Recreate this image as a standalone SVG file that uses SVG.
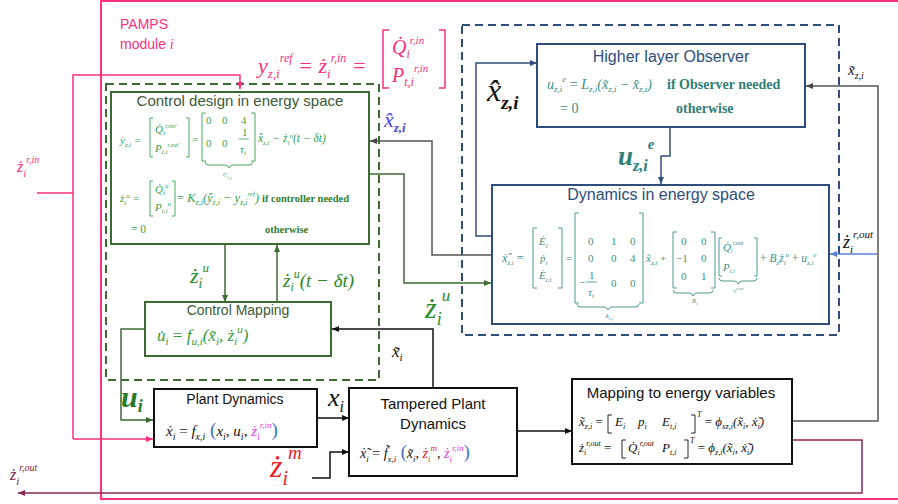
<svg xmlns="http://www.w3.org/2000/svg" width="898" height="504" viewBox="0 0 898 504">
<defs>
<style>
.sans{font-family:"Liberation Sans","Open Sans",sans-serif}
.m{font-family:"Liberation Serif","DejaVu Serif",serif;font-style:italic}
.u{font-family:"Liberation Serif","DejaVu Serif",serif;font-style:normal}
.b{font-family:"Liberation Serif","DejaVu Serif",serif;font-weight:bold}
.ln{fill:none;stroke-width:1.5}
.box{fill:#fff;stroke-width:2}
.brk{fill:none;stroke-width:0.9}
</style>
<marker id="ak" markerWidth="8" markerHeight="8" refX="7" refY="4" orient="auto" markerUnits="userSpaceOnUse"><path d="M0,1 L7,4 L0,7z" fill="#111"/></marker>
<marker id="ag" markerWidth="8" markerHeight="8" refX="7" refY="4" orient="auto" markerUnits="userSpaceOnUse"><path d="M0,1 L7,4 L0,7z" fill="#3b6b33"/></marker>
<marker id="an" markerWidth="8" markerHeight="8" refX="7" refY="4" orient="auto" markerUnits="userSpaceOnUse"><path d="M0,1 L7,4 L0,7z" fill="#2f4d7c"/></marker>
<marker id="ap" markerWidth="8" markerHeight="8" refX="7" refY="4" orient="auto" markerUnits="userSpaceOnUse"><path d="M0,1 L7,4 L0,7z" fill="#f7307f"/></marker>
<marker id="am" markerWidth="8" markerHeight="8" refX="7" refY="4" orient="auto" markerUnits="userSpaceOnUse"><path d="M0,1 L7,4 L0,7z" fill="#8e2756"/></marker>
<marker id="ab" markerWidth="8" markerHeight="8" refX="7" refY="4" orient="auto" markerUnits="userSpaceOnUse"><path d="M0,1 L7,4 L0,7z" fill="#5b7fd8"/></marker>
<marker id="ay" markerWidth="8" markerHeight="8" refX="7" refY="4" orient="auto" markerUnits="userSpaceOnUse"><path d="M0,1 L7,4 L0,7z" fill="#444"/></marker>
</defs>
<rect width="898" height="504" fill="#fff"/>

<!-- module frame -->
<g id="pamps-module">
<rect x="101" y="1" width="800" height="498" fill="none" stroke="#f7307f" stroke-width="2"/>
<text x="120" y="29" class="sans" font-size="14" fill="#f7307f">PAMPS</text>
<text x="120" y="49" class="sans" font-size="14" fill="#f7307f">module <tspan class="m">i</tspan></text>
</g>

<g id="ref-formula" fill="#f7307f">
<text x="258" y="73" class="m" font-size="22">y<tspan font-size="13" dy="5">z,i</tspan><tspan font-size="12" dy="-16">ref</tspan><tspan dy="11"> = ż</tspan><tspan font-size="13" dy="5">i</tspan><tspan font-size="12" dy="-16">r,in</tspan><tspan dy="11"> =</tspan></text>
<path d="M389,30 h-6 v58 h6 M439,30 h6 v58 h-6" fill="none" stroke="#f7307f" stroke-width="1.5"/>
<text x="392" y="54" class="m" font-size="20">Q̇<tspan font-size="12" dy="4">i</tspan><tspan font-size="11" dy="-14">r,in</tspan></text>
<text x="392" y="82" class="m" font-size="20">P<tspan font-size="12" dy="4">t,i</tspan><tspan font-size="11" dy="-14">r,in</tspan></text>
</g>

<!-- dashed groupings -->
<g id="control-group"><rect x="106" y="84" width="273" height="296" fill="none" stroke="#3b6b33" stroke-width="2" stroke-dasharray="8 5"/></g>
<g id="observer-group"><rect x="462" y="25" width="377" height="310" fill="none" stroke="#2f4d7c" stroke-width="2" stroke-dasharray="8 5"/></g>

<!-- connectors -->
<g id="connectors">
<path class="ln" d="M37,193 H73" stroke="#f7307f" stroke-width="2"/>
<path class="ln" d="M73,439 V75 H240 V89" stroke="#f7307f" stroke-width="2" marker-end="url(#ap)"/>
<path class="ln" d="M73,439 H153" stroke="#f7307f" stroke-width="2" marker-end="url(#ap)"/>
<path class="ln" d="M792,440 H862 V493 H18" stroke="#8e2756" stroke-width="2" marker-end="url(#am)"/>
<path class="ln" d="M145,329 H121 V420 H153" stroke="#3b6b33" stroke-width="2" marker-end="url(#ag)"/>
<path class="ln" d="M225,244 V302" stroke="#3b6b33" stroke-width="2" marker-end="url(#ag)"/>
<path class="ln" d="M277,302 V245" stroke="#3b6b33" stroke-width="2" marker-end="url(#ag)"/>
<path class="ln" d="M317,418 H349" stroke="#111" marker-end="url(#ak)"/>
<path class="ln" d="M312,478 H330 V452 H349" stroke="#111" stroke-width="2" marker-end="url(#ak)"/>
<path class="ln" d="M433,388 V329 H332" stroke="#111" marker-end="url(#ak)"/>
<path class="ln" d="M517,431 H572" stroke="#111" marker-end="url(#ak)"/>
<path class="ln" d="M792,421 H878 V86 H806" stroke="#555" stroke-width="2" marker-end="url(#ay)"/>
<path class="ln" d="M878,254 H830" stroke="#5b7fd8" stroke-width="2" marker-end="url(#ab)"/>
<path class="ln" d="M670,127 V156 H661 V184" stroke="#2f4d7c" stroke-width="2" marker-end="url(#an)"/>
<path class="ln" d="M492,236 H476 V63 H537" stroke="#2f4d7c" stroke-width="2" marker-end="url(#an)"/>
<path class="ln" d="M492,255 H432 V141 H370" stroke="#555" marker-end="url(#ay)"/>
<path class="ln" d="M369,174 H404 V283 H491" stroke="#3b6b33" stroke-width="2" marker-end="url(#ag)"/>
</g>

<!-- connector labels -->
<g id="labels">
<text x="17" y="172" class="m" font-size="16" fill="#f7307f">ż<tspan font-size="11" dy="5">i</tspan><tspan font-size="10" dy="-14">r,in</tspan></text>
<text x="10" y="480" class="m" font-size="16" fill="#7a2048">ż<tspan font-size="11" dy="5">i</tspan><tspan font-size="10" dy="-14">r,out</tspan></text>
<text x="487" y="101" class="m" font-size="32" fill="#111">x̂<tspan font-size="19" font-weight="bold" dy="8">z,i</tspan></text>
<text x="618" y="165" class="m" font-size="27" fill="#2f7f78" font-weight="bold">u<tspan font-size="16" dy="6">z,i</tspan><tspan font-size="15" dy="-22">e</tspan></text>
<text x="848" y="75" class="m" font-size="15" fill="#111">x̃<tspan font-size="10" dy="4">z,i</tspan></text>
<text x="843" y="248" class="m" font-size="18" fill="#111">ż<tspan font-size="11" dy="5">i</tspan><tspan font-size="11" dy="-15">r,out</tspan></text>
<text x="425" y="318" class="m" font-size="30" fill="#2a8a2a">ż<tspan font-size="18" dy="7">i</tspan><tspan font-size="17" dy="-24">u</tspan></text>
<text x="384" y="127" class="m" font-size="22" fill="#4a4ae0">x̂<tspan font-size="13" font-weight="bold" dy="5">z,i</tspan></text>
<text x="190" y="283" class="m" font-size="22" fill="#2a8a2a">ż<tspan font-size="14" dy="5">i</tspan><tspan font-size="13" dy="-16">u</tspan></text>
<text x="283" y="287" class="m" font-size="19" fill="#2a8a2a">ż<tspan font-size="12" dy="4">i</tspan><tspan font-size="12" dy="-13">u</tspan><tspan dy="9">(t − δt)</tspan></text>
<text x="392" y="357" class="m" font-size="17" fill="#111">x̃<tspan font-size="11" dy="4">i</tspan></text>
<text x="121" y="407" class="m" font-size="30" font-weight="bold" fill="#2a7a2a">u<tspan font-size="18" dy="5">i</tspan></text>
<text x="328" y="406" class="m" font-size="26" fill="#111">x<tspan font-size="16" dy="6">i</tspan></text>
<text x="270" y="477" class="m" font-size="32" fill="#e8202a">ż<tspan font-size="20" dy="8">i</tspan><tspan font-size="19" dy="-26">m</tspan></text>
</g>

<!-- Control design -->
<g id="control-design">
<rect x="111" y="92" width="258" height="152" class="box" stroke="#3b6b33"/>
<text x="240" y="106" text-anchor="middle" class="sans" font-size="15" fill="#3c5a38">Control design in energy space</text>
<g fill="#35a14c">
<text x="120" y="144" class="m" font-size="11">ẏ<tspan font-size="7" dy="3">z,i</tspan><tspan dy="-3"> =</tspan></text>
<path class="brk" stroke="#35a14c" d="M153,118 h-3 v39 h3 M186,118 h3 v39 h-3"/>
<text x="155" y="133" class="m" font-size="11">Q̇<tspan font-size="7" dy="2">i</tspan><tspan font-size="6" dy="-7">r,out'</tspan></text>
<text x="155" y="152" class="m" font-size="11">P<tspan font-size="7" dy="2">t,i</tspan><tspan font-size="6" dy="-7">r,out'</tspan></text>
<text x="192" y="143" class="u" font-size="11">=</text>
<path class="brk" stroke="#35a14c" d="M206,113 h-4 v48 h4 M251,113 h4 v48 h-4"/>
<text class="u" font-size="11"><tspan x="206" y="124">0</tspan><tspan x="222" y="124">0</tspan><tspan x="241" y="124">4</tspan><tspan x="206" y="147">0</tspan><tspan x="222" y="147">0</tspan><tspan x="242" y="136">1</tspan></text>
<path d="M239,139 h10" stroke="#35a14c" stroke-width="0.8"/>
<text x="240" y="153" class="m" font-size="11">τ<tspan font-size="7" dy="2">i</tspan></text>
<path class="brk" stroke="#35a14c" d="M205,162 q0,3 4,3 h16 q3,0 4,3 q1,-3 4,-3 h16 q4,0 4,-3"/>
<text x="223" y="177" class="m" font-size="7">C<tspan font-size="5" dy="2">z,i</tspan></text>
<text x="258" y="142" class="m" font-size="11.5">x̂<tspan font-size="7" dy="3">z,i</tspan><tspan dy="-3"> − ż</tspan><tspan font-size="7" dy="3">i</tspan><tspan font-size="7" dy="-7">u</tspan><tspan dy="4">(t − δt)</tspan></text>
<text x="120" y="202" class="m" font-size="11">ż<tspan font-size="7" dy="3">i</tspan><tspan font-size="7" dy="-7">u</tspan><tspan dy="4"> =</tspan></text>
<path class="brk" stroke="#35a14c" d="M153,181 h-3 v35 h3 M172,181 h3 v35 h-3"/>
<text x="155" y="193" class="m" font-size="11">Q̇<tspan font-size="7" dy="2">i</tspan><tspan font-size="7" dy="-7">u</tspan></text>
<text x="155" y="211" class="m" font-size="11">P<tspan font-size="7" dy="2">t,i</tspan><tspan font-size="7" dy="-7">u</tspan></text>
<text x="177" y="202" class="m" font-size="12.5"><tspan class="u">=</tspan> K<tspan font-size="8" dy="3">z,i</tspan><tspan dy="-3">(ŷ</tspan><tspan font-size="8" dy="3">z,i</tspan><tspan dy="-3"> − y</tspan><tspan font-size="8" dy="3">z,i</tspan><tspan font-size="7" dy="-9">ref</tspan><tspan dy="6">)</tspan></text>
<text x="131" y="233" class="u" font-size="11.5">= 0</text>
</g>
<text x="262" y="202" class="b" font-size="10.5" fill="#2e7d32">if controller needed</text>
<text x="265" y="233" class="b" font-size="10.5" fill="#2e7d32">otherwise</text>
</g>

<!-- Control Mapping -->
<g id="control-mapping">
<rect x="145" y="302" width="186" height="54" class="box" stroke="#3b6b33"/>
<text x="238" y="315" text-anchor="middle" class="sans" font-size="14" fill="#3c5a38">Control Mapping</text>
<text x="157" y="341" class="m" font-size="17" fill="#2e9a3a">u̇<tspan font-size="11" dy="4">i</tspan><tspan dy="-4" class="u"> = </tspan>f<tspan font-size="11" dy="4">u,i</tspan><tspan dy="-4">(x̃</tspan><tspan font-size="11" dy="4">i</tspan><tspan dy="-4">, ż</tspan><tspan font-size="11" dy="4">i</tspan><tspan font-size="11" dy="-12">u</tspan><tspan dy="8">)</tspan></text>
</g>

<!-- Plant Dynamics -->
<g id="plant-dynamics">
<rect x="154" y="389" width="163" height="58" class="box" stroke="#111"/>
<text x="235" y="404" text-anchor="middle" class="sans" font-size="14" fill="#111">Plant Dynamics</text>
<text x="166" y="436" class="m" font-size="15" fill="#111">ẋ<tspan font-size="10" dy="4">i</tspan><tspan dy="-4" class="u"> = </tspan>f<tspan font-size="10" dy="4">x,i</tspan><tspan dy="-4" fill="#3a6fc0" font-size="19" class="u"> (</tspan><tspan>x</tspan><tspan font-size="10" dy="4">i</tspan><tspan dy="-4">, u</tspan><tspan font-size="10" dy="4">i</tspan><tspan dy="-4">, </tspan><tspan fill="#e83ae8">ż</tspan><tspan font-size="10" dy="4" fill="#e83ae8">i</tspan><tspan font-size="9" dy="-12" fill="#e83ae8">r,in</tspan><tspan dy="8" fill="#3a6fc0" font-size="19" class="u">)</tspan></text>
</g>

<!-- Tampered Plant Dynamics -->
<g id="tampered-plant">
<rect x="349" y="388" width="168" height="88" class="box" stroke="#111"/>
<text x="433" y="409" text-anchor="middle" class="sans" font-size="15" fill="#111">Tampered Plant</text>
<text x="433" y="429" text-anchor="middle" class="sans" font-size="15" fill="#111">Dynamics</text>
<text x="360" y="458" class="m" font-size="14" fill="#111">ẋ̃<tspan font-size="9" dy="4">i</tspan><tspan dy="-4" class="u"> = </tspan>f̃<tspan font-size="9" dy="4">x,i</tspan><tspan dy="-4" fill="#3a6fc0" font-size="18" class="u"> (</tspan><tspan>x̃</tspan><tspan font-size="9" dy="4">i</tspan><tspan dy="-4">, </tspan><tspan fill="#e8202a">ż</tspan><tspan font-size="9" dy="4" fill="#e8202a">i</tspan><tspan font-size="9" dy="-11" fill="#e8202a">m</tspan><tspan dy="7">, </tspan><tspan fill="#e83ae8">ż</tspan><tspan font-size="9" dy="4" fill="#e83ae8">i</tspan><tspan font-size="9" dy="-11" fill="#e83ae8">r,in</tspan><tspan dy="7" fill="#3a6fc0" font-size="18" class="u">)</tspan></text>
</g>

<!-- Mapping to energy variables -->
<g id="mapping-energy">
<rect x="572" y="379" width="220" height="85" class="box" stroke="#111"/>
<text x="681" y="398" text-anchor="middle" class="sans" font-size="15" fill="#111">Mapping to energy variables</text>
<text x="579" y="426" class="m" font-size="13" fill="#111">x̃<tspan font-size="8" dy="3">z,i</tspan><tspan dy="-3" class="u"> =</tspan></text>
<path class="brk" stroke="#111" d="M612,415 h-4 v18 h4 M691,415 h4 v18 h-4"/>
<text x="615" y="426" class="m" font-size="13" fill="#111">E<tspan font-size="8" dy="3">i</tspan><tspan dy="-3" x="638">p</tspan><tspan font-size="8" dy="3">i</tspan><tspan dy="-3" x="662">E</tspan><tspan font-size="8" dy="3">t,i</tspan></text>
<text x="697" y="426" class="m" font-size="13" fill="#111"><tspan font-size="8" dy="-9">T</tspan><tspan dy="9" class="u"> = </tspan>ϕ<tspan font-size="8" dy="3">xz,i</tspan><tspan dy="-3">(x̃</tspan><tspan font-size="8" dy="3">i</tspan><tspan dy="-3">, ẋ̃</tspan><tspan font-size="8" dy="3">i</tspan><tspan dy="-3">)</tspan></text>
<text x="579" y="452" class="m" font-size="13" fill="#111">ż<tspan font-size="8" dy="3">i</tspan><tspan font-size="8" dy="-9">r,out</tspan><tspan dy="6" class="u"> =</tspan></text>
<path class="brk" stroke="#111" d="M626,440 h-4 v18 h4 M684,440 h4 v18 h-4"/>
<text x="628" y="452" class="m" font-size="13" fill="#111">Q̇<tspan font-size="8" dy="3">i</tspan><tspan font-size="8" dy="-9">r,out</tspan><tspan dy="6" x="662">P</tspan><tspan font-size="8" dy="3">t,i</tspan></text>
<text x="690" y="452" class="m" font-size="13" fill="#111"><tspan font-size="8" dy="-9">T</tspan><tspan dy="9" class="u"> = </tspan>ϕ<tspan font-size="8" dy="3">z,i</tspan><tspan dy="-3">(x̃</tspan><tspan font-size="8" dy="3">i</tspan><tspan dy="-3">, ẋ̃</tspan><tspan font-size="8" dy="3">i</tspan><tspan dy="-3">)</tspan></text>
</g>

<!-- Higher layer Observer -->
<g id="higher-layer-observer">
<rect x="537" y="44" width="268" height="83" class="box" stroke="#2f4d7c"/>
<text x="671" y="62" text-anchor="middle" class="sans" font-size="16" fill="#2f4d7c">Higher layer Observer</text>
<text x="547" y="89" class="m" font-size="14" fill="#3a8f86">u<tspan font-size="9" dy="3">z,i</tspan><tspan font-size="9" dy="-10">e</tspan><tspan dy="7" class="u"> = </tspan>L<tspan font-size="9" dy="3">z,i</tspan><tspan dy="-3">(x̃</tspan><tspan font-size="9" dy="3">z,i</tspan><tspan dy="-3"> − x̂</tspan><tspan font-size="9" dy="3">z,i</tspan><tspan dy="-3">)</tspan></text>
<text x="667" y="89" class="b" font-size="14" fill="#2f7f78">if Observer needed</text>
<text x="560" y="113" class="u" font-size="14" fill="#3a8f86">= 0</text>
<text x="676" y="113" class="b" font-size="14" fill="#2f7f78">otherwise</text>
</g>

<!-- Dynamics in energy space -->
<g id="dynamics-energy">
<rect x="492" y="185" width="337" height="139" class="box" stroke="#2f4d7c"/>
<text x="661" y="200" text-anchor="middle" class="sans" font-size="16" fill="#2f4d7c">Dynamics in energy space</text>
<g fill="#3a8f86">
<text x="502" y="262" class="m" font-size="12">ẋ̂<tspan font-size="7" dy="3">z,i</tspan><tspan dy="-3" class="u"> =</tspan></text>
<path class="brk" stroke="#3a8f86" d="M537,228 h-4 v60 h4 M558,228 h4 v60 h-4"/>
<text x="539" y="245" class="m" font-size="11">Ė<tspan font-size="7" dy="3">i</tspan></text>
<text x="540" y="262" class="m" font-size="11">ṗ<tspan font-size="7" dy="3">i</tspan></text>
<text x="539" y="279" class="m" font-size="11">Ė<tspan font-size="7" dy="3">t,i</tspan></text>
<text x="566" y="262" class="u" font-size="11">=</text>
<path class="brk" stroke="#3a8f86" d="M579,213 h-4 v90 h4 M639,213 h4 v90 h-4"/>
<text class="u" font-size="11"><tspan x="588" y="245">0</tspan><tspan x="611" y="245">1</tspan><tspan x="630" y="245">0</tspan><tspan x="588" y="262">0</tspan><tspan x="611" y="262">0</tspan><tspan x="630" y="262">4</tspan><tspan x="579" y="286">−</tspan><tspan x="589" y="279">1</tspan><tspan x="611" y="287">0</tspan><tspan x="630" y="287">0</tspan></text>
<path d="M586,282 h11" stroke="#3a8f86" stroke-width="0.8"/>
<text x="588" y="296" class="m" font-size="11">τ<tspan font-size="7" dy="2">i</tspan></text>
<path class="brk" stroke="#3a8f86" d="M577,304 q0,3 4,3 h23 q3,0 4,3 q1,-3 4,-3 h23 q4,0 4,-3"/>
<text x="605" y="318" class="m" font-size="6">A<tspan font-size="5" dy="2">z,i</tspan></text>
<text x="646" y="262" class="m" font-size="11">x̂<tspan font-size="7" dy="3">z,i</tspan><tspan dy="-3" class="u"> +</tspan></text>
<path class="brk" stroke="#3a8f86" d="M677,232 h-4 v56 h4 M711,232 h4 v56 h-4"/>
<text class="u" font-size="11"><tspan x="681" y="245">0</tspan><tspan x="701" y="245">0</tspan><tspan x="676" y="262">−1</tspan><tspan x="701" y="262">0</tspan><tspan x="681" y="280">0</tspan><tspan x="701" y="280">1</tspan></text>
<path class="brk" stroke="#3a8f86" d="M673,290 q0,3 4,3 h12 q3,0 4,3 q1,-3 4,-3 h12 q4,0 4,-3"/>
<text x="692" y="303" class="m" font-size="6">B<tspan font-size="4" dy="2">z</tspan></text>
<path class="brk" stroke="#3a8f86" d="M722,238 h-3 v38 h3 M754,238 h3 v38 h-3"/>
<text x="723" y="251" class="m" font-size="11">Q̇<tspan font-size="6" dy="2">i</tspan><tspan font-size="6" dy="-8">r,out</tspan></text>
<text x="723" y="271" class="m" font-size="11">P<tspan font-size="6" dy="2">t,i</tspan></text>
<path class="brk" stroke="#3a8f86" d="M719,278 q0,3 4,3 h11 q3,0 4,3 q1,-3 4,-3 h11 q4,0 4,-3"/>
<text x="733" y="292" class="m" font-size="5">ż<tspan font-size="4" dy="1">i</tspan><tspan font-size="4" dy="-3">r,out</tspan></text>
<text x="760" y="262" class="m" font-size="11.5"><tspan class="u">+ </tspan>B<tspan font-size="7" dy="3">z</tspan><tspan dy="-3">ż</tspan><tspan font-size="7" dy="3">i</tspan><tspan font-size="7" dy="-8">u</tspan><tspan dy="5" class="u"> + </tspan>u<tspan font-size="7" dy="3">z,i</tspan><tspan font-size="7" dy="-8">e</tspan></text>
</g>
</g>
</svg>
